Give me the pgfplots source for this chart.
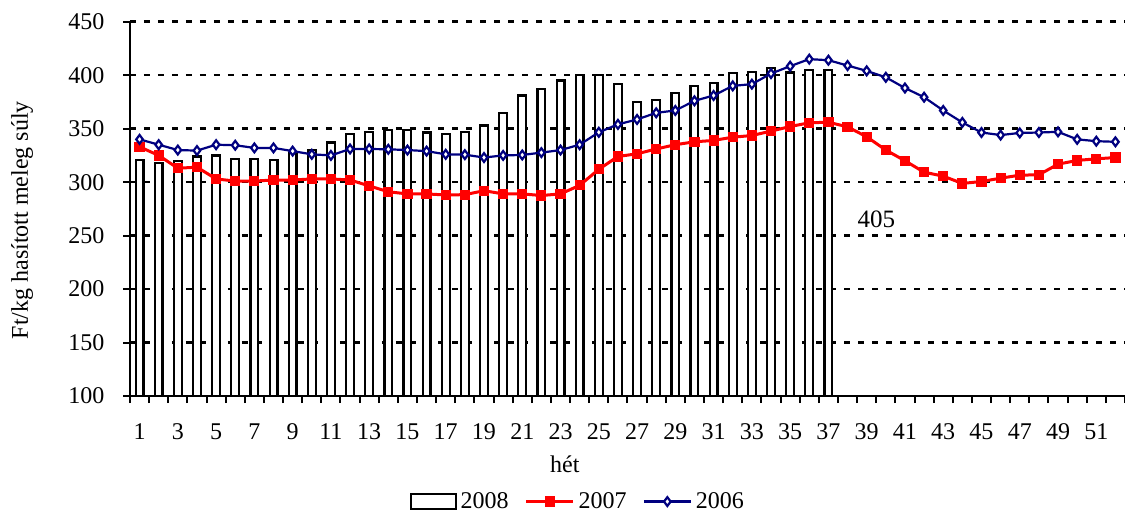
\documentclass[border=0pt]{standalone}
\usepackage{fontspec}
\setmainfont{Liberation Serif}
\usepackage{pgfplots}
\pgfplotsset{compat=1.18}
\usepackage{pgfplotstable}
\definecolor{navy}{RGB}{0,0,128}

\pgfplotsset{
    boxlegend/.style={legend image code/.code={\draw[black, line width=1.1pt, fill=white] (0pt,-3.75pt) rectangle (22.5pt,3.75pt);}},
    linelegend/.style={legend image code/.code={\draw[mark repeat=2, mark phase=2, ##1] plot coordinates {(0pt,0pt) (11.75pt,0pt) (23.5pt,0pt)};}},
}

% 2008: only weeks 1-37
\pgfplotstableread{
week price
1 321
2 318
3 320
4 324
5 325
6 322
7 322
8 321
9 327
10 330
11 337
12 345
13 347
14 349
15 348.5
16 346.5
17 345
18 347
19 353
20 365
21 381
22 387
23 395
24 400.5
25 400.5
26 392
27 375
28 377
29 383
30 390
31 393
32 402
33 403
34 407
35 402.5
36 405
37 405
}\dataEight

\pgfplotstableread{
week price
1 333
2 325
3 313
4 314
5 303
6 301
7 301
8 302
9 302
10 303
11 303
12 302
13 296.5
14 291
15 289
16 289
17 288
18 288.3
19 292
20 289
21 289
22 287.5
23 289
24 297
25 312
26 324
27 326.5
28 331
29 335
30 337.7
31 339
32 342
33 343.6
34 347.7
35 352
36 355.5
37 356
38 351.7
39 342.4
40 330
41 320
42 309.3
43 305.6
44 298.8
45 300.6
46 303.7
47 306.5
48 306.9
49 316.8
50 320.3
51 321.8
52 323
}\dataSeven

\pgfplotstableread{
week price
1 340
2 335
3 330
4 329.5
5 335
6 334.5
7 332
8 332
9 329
10 326
11 325
12 331
13 331
14 330.7
15 330
16 329
17 326
18 325.7
19 323
20 325
21 325.4
22 327.6
23 330
24 335
25 346.6
26 354
27 358.6
28 364.8
29 367
30 376
31 381
32 390
33 391.6
34 401.5
35 408.4
36 415
37 414
38 409
39 404
40 398
41 388
42 379.4
43 367
44 355.8
45 346.4
46 344
47 346
48 346.4
49 347
50 340
51 338.3
52 337.7
}\dataSix

\begin{document}
\begin{tikzpicture}[font=\fontsize{12}{14}\selectfont]
\begin{axis}[
    name=ax,
    scale only axis,
    width=497.5pt, height=187.2pt,
    xmin=0.5, xmax=52.5, ymin=100, ymax=450,
    axis x line*=bottom, axis y line*=left,
    axis line style={line width=1.2pt, -},
    xtick={1,3,...,51},
    minor xtick={0.5,1.5,...,52.5},
    ytick={100,150,...,450},
    major x tick style={draw=none},
    tick align=outside,
    tick style={black, line width=1pt},
    major tick length=3.3pt, minor tick length=3.5pt,
    ymajorgrids,
    grid style={black, line width=1.3pt, dash pattern=on 3pt off 4pt},
    /pgf/number format/assume math mode=true,
    xticklabel style={yshift=-7pt},
    yticklabel style={xshift=-6pt},
    ylabel={Ft/kg hasított meleg súly},
    ylabel style={at={(axis description cs:-0.1085,0.47)}, anchor=center},
    xlabel={hét},
    xlabel style={at={(axis description cs:0.437,-0.182)}, anchor=center},
    legend style={at={(axis description cs:0.451,-0.2818)}, anchor=center,
        draw=none, legend columns=-1,
        /tikz/every even column/.append style={column sep=6pt}},
]
\addplot[ybar, bar width=3.9pt, draw=black, line width=1.1pt, fill=white, boxlegend]
    table[x=week, y=price] {\dataEight};
\addlegendentry{2008}
\addplot[red, line width=1.5pt, mark=square*, mark size=2.3pt,
    mark options={solid, fill=red, line width=0.5pt}, linelegend]
    table[x=week, y=price] {\dataSeven};
\addlegendentry{2007}
\addplot[navy, line width=1.1pt, mark=diamond*, mark size=2.2pt,
    mark options={solid, fill=white, draw=navy, line width=1.1pt}, linelegend]
    table[x=week, y=price] {\dataSix};
\addlegendentry{2006}
\node[font=\fontsize{12.5}{14}\selectfont] at (axis cs:39.5,265.5) {405};
\end{axis}
\pgfresetboundingbox
\path ([xshift=-65pt,yshift=-60pt]ax.south west) rectangle ([yshift=10.85pt]ax.north east);
\end{tikzpicture}
\end{document}
